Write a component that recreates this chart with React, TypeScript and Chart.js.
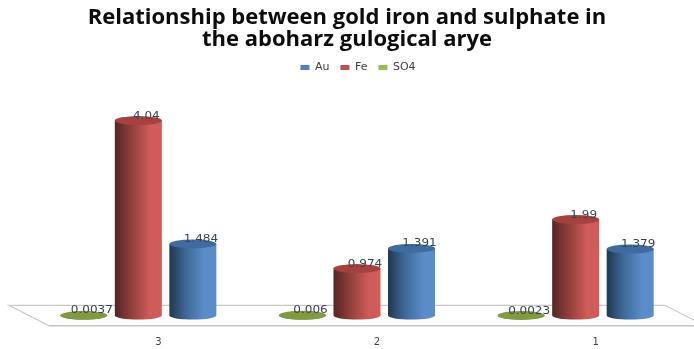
import { useEffect, useRef } from "react";
import { Chart, registerables } from "chart.js";

Chart.register(...registerables);

// Categories run 1..3 on a reversed axis, so 3 sits at the left.
const categories = ["1", "2", "3"];
const auValues = [1.379, 1.391, 1.484];
const feValues = [1.99, 0.974, 4.04];
const so4Values = [0.0023, 0.006, 0.0037];
const titleLines = [
  "Relationship between gold iron and sulphate in",
  "the aboharz gulogical arye",
];

const CANVAS_WIDTH = 716;
const CANVAS_HEIGHT = 349;
const PAGE_OFFSET = 11;
const LEGEND_SHIFT = 11;

// Depth of the floor: the back edge is displaced from the front edge by this.
const DEPTH_X = -40;
const DEPTH_Y = -20.5;

const shades = [
  { legend: "#4f81bd", dark: "#21374f", mid: "#3e6897", light: "#5a8dc8", top: "#3f6b9e" },
  { legend: "#c0504d", dark: "#562523", mid: "#8f3f3c", light: "#cf5c59", top: "#a5423f" },
  { legend: "#9bbb59", dark: "#5f7a30", mid: "#7f9a41", light: "#8aa64a", top: "#7f9a41" },
];

function drawCylinder(ctx: CanvasRenderingContext2D, cx: number, topY: number, baseY: number, width: number, shade: (typeof shades)[number]) {
  const rx = width / 2;
  const ryTop = 4.5;
  const ryBase = 4;
  const gradient = ctx.createLinearGradient(cx - rx, 0, cx + rx, 0);
  gradient.addColorStop(0, shade.dark);
  gradient.addColorStop(0.35, shade.mid);
  gradient.addColorStop(0.75, shade.light);
  gradient.addColorStop(1, shade.light);

  ctx.beginPath();
  ctx.moveTo(cx - rx, topY);
  ctx.lineTo(cx - rx, baseY);
  ctx.ellipse(cx, baseY, rx, ryBase, 0, Math.PI, 0, true);
  ctx.lineTo(cx + rx, topY);
  ctx.closePath();
  ctx.fillStyle = gradient;
  ctx.fill();

  ctx.beginPath();
  ctx.ellipse(cx, topY, rx, ryTop, 0, 0, Math.PI * 2);
  ctx.fillStyle = shade.top;
  ctx.fill();
}

const cylinderPlugin = {
  id: "cylinders",
  afterLayout(chart: any) {
    // The legend sits a little right of the centred title.
    chart.legend.left += LEGEND_SHIFT;
    chart.legend.right += LEGEND_SHIFT;
  },
  beforeDatasetsDraw(chart: any) {
    const { ctx, chartArea } = chart;
    const { left, right, bottom } = chartArea;

    // Floor of the 3D plot.
    ctx.save();
    ctx.beginPath();
    ctx.moveTo(left, bottom);
    ctx.lineTo(left + DEPTH_X, bottom + DEPTH_Y);
    ctx.lineTo(right + DEPTH_X, bottom + DEPTH_Y);
    ctx.lineTo(right, bottom);
    ctx.strokeStyle = "#c8c8c8";
    ctx.lineWidth = 1.2;
    ctx.stroke();
    ctx.beginPath();
    ctx.moveTo(left, bottom);
    ctx.lineTo(right, bottom);
    ctx.strokeStyle = "#c4c4c4";
    ctx.lineWidth = 1.6;
    ctx.stroke();

    // Columns sit halfway across the floor's depth.
    const labels: { text: string; x: number; y: number }[] = [];
    chart.data.datasets.forEach((dataset: any, datasetIndex: number) => {
      const meta = chart.getDatasetMeta(datasetIndex);
      meta.data.forEach((bar: any, i: number) => {
        const cx = bar.x + DEPTH_X / 2;
        const topY = bar.y + DEPTH_Y / 2;
        const baseY = bar.base + DEPTH_Y / 2;
        drawCylinder(ctx, cx, topY, baseY, bar.width, shades[datasetIndex]);
        labels.push({ text: String(dataset.data[i]), x: cx + 8, y: topY - 4.5 });
      });
    });

    // Value labels, slightly widened as in a stretched 3D chart.
    ctx.font = "10px 'DejaVu Sans'";
    ctx.fillStyle = "#3a4450";
    ctx.textAlign = "center";
    ctx.textBaseline = "middle";
    labels.forEach(({ text, x, y }) => {
      ctx.save();
      ctx.translate(x, y);
      ctx.scale(1.2, 1);
      ctx.fillText(text, 0, 0);
      ctx.restore();
    });
    ctx.restore();
    return false;
  },
};

export default function App() {
  const canvasRef = useRef<HTMLCanvasElement>(null);

  useEffect(() => {
    const chart = new Chart(canvasRef.current!, {
      type: "bar",
      data: {
        labels: categories,
        datasets: [
          { label: "Au", data: auValues, backgroundColor: shades[0].legend, order: 3 },
          { label: "Fe", data: feValues, backgroundColor: shades[1].legend, order: 2 },
          { label: "SO4", data: so4Values, backgroundColor: shades[2].legend, order: 1 },
        ],
      },
      options: {
        responsive: false,
        animation: false,
        categoryPercentage: 0.748,
        barPercentage: 0.862,
        layout: { padding: { bottom: -1.6 } },
        plugins: {
          tooltip: { enabled: false },
          title: {
            display: true,
            text: titleLines,
            color: "#0c0c0c",
            font: { family: "'Open Sans'", size: 22, weight: "bold", lineHeight: 1 },
            padding: { top: 7, bottom: 0 },
          },
          legend: {
            display: true,
            position: "top",
            labels: {
              boxWidth: 9,
              boxHeight: 5,
              padding: 11,
              color: "#404040",
              font: { family: "'DejaVu Sans'", size: 11 },
              // Keep the legend in dataset order, independent of the bar order.
              sort: (a: any, b: any) => a.datasetIndex - b.datasetIndex,
            },
          },
        },
        scales: {
          x: {
            reverse: true,
            grid: { display: false },
            border: { display: false },
            ticks: {
              color: "#404040",
              font: { family: "'DejaVu Sans'", size: 10 },
              padding: 2.4,
            },
          },
          y: {
            min: 0,
            max: 5.03,
            grid: { display: false },
            border: { display: false },
            ticks: { display: false },
            afterFit(scale: any) {
              scale.width = 60;
            },
          },
        },
      },
      plugins: [cylinderPlugin],
    } as any);
    return () => chart.destroy();
  }, []);

  return (
    <div style={{ position: "fixed", left: 0, top: 0, width: 694, height: 349, overflow: "hidden", background: "#ffffff" }}>
      <canvas
        ref={canvasRef}
        width={CANVAS_WIDTH}
        height={CANVAS_HEIGHT}
        style={{ position: "absolute", left: -PAGE_OFFSET, top: 0 }}
      />
    </div>
  );
}
